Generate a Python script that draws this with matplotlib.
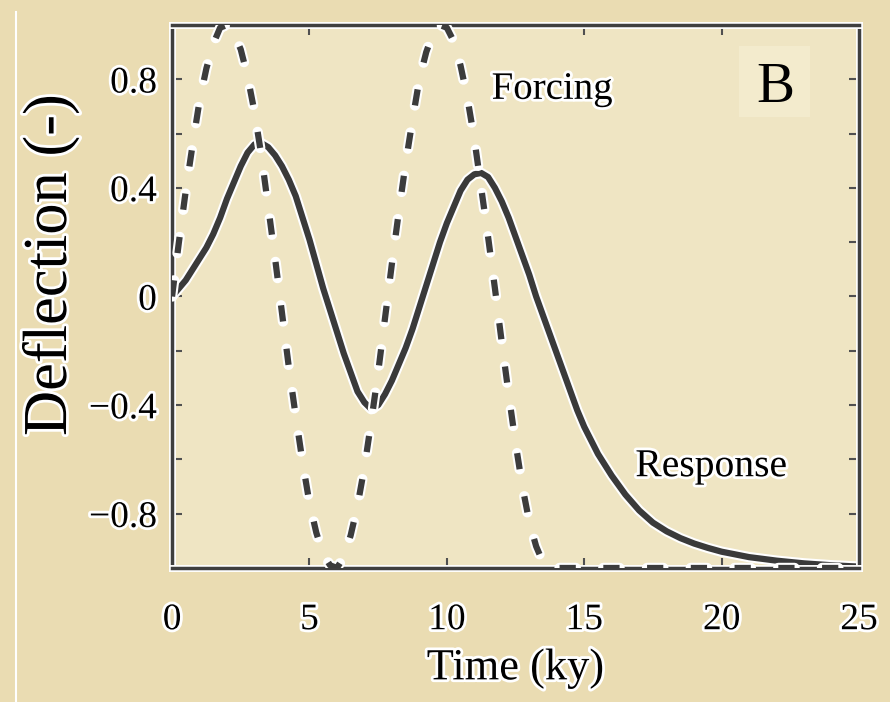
import matplotlib
matplotlib.use('Agg')
import matplotlib.pyplot as plt
import matplotlib.patheffects as pe
from matplotlib.patches import Rectangle
from matplotlib.lines import Line2D

plt.rcParams['font.family'] = 'serif'
plt.rcParams['font.serif'] = ['Liberation Serif', 'DejaVu Serif']

# forcing (dashed)
forcing_time = [0.0, 0.25, 0.5, 0.75, 1.0, 1.25, 1.5, 1.75, 2.0, 2.25, 2.5, 2.75,
                3.0, 3.25, 3.5, 3.75, 4.0, 4.25, 4.5, 4.75, 5.0, 5.25, 5.5, 5.75,
                6.0, 6.25, 6.5, 6.75, 7.0, 7.25, 7.5, 7.75, 8.0, 8.25, 8.5, 8.75,
                9.0, 9.25, 9.5, 9.75, 10.0, 10.25, 10.5, 10.75, 11.0, 11.25, 11.5, 11.75,
                12.0, 12.25, 12.5, 12.75, 13.0, 13.25, 13.5, 13.75, 14.0,
                15, 16, 17, 18, 19, 20, 21, 22, 23, 24, 25]
forcing = [0.00, 0.20, 0.39, 0.56, 0.72, 0.84, 0.93, 0.99, 1.00, 0.97, 0.91, 0.81,
           0.68, 0.52, 0.33, 0.14, -0.06, -0.26, -0.44, -0.61, -0.76, -0.87, -0.95, -0.99,
           -1.00, -0.96, -0.88, -0.77, -0.63, -0.46, -0.28, -0.08, 0.12, 0.31, 0.49, 0.65,
           0.80, 0.90, 0.97, 1.00, 0.99, 0.94, 0.85, 0.73, 0.58, 0.40, 0.22, 0.03,
           -0.17, -0.36, -0.54, -0.70, -0.83, -0.92, -0.98, -1.00, -1.00,
           -1, -1, -1, -1, -1, -1, -1, -1, -1, -1, -1]

# response (solid)
response_time = [0.0, 0.25, 0.5, 0.75, 1.0, 1.25, 1.5, 1.75, 2.0, 2.25, 2.5, 2.75,
                 3.0, 3.25, 3.5, 3.75, 4.0, 4.25, 4.5, 4.75, 5.0, 5.25, 5.5, 5.75,
                 6.0, 6.25, 6.5, 6.75, 7.0, 7.25, 7.5, 7.75, 8.0, 8.25, 8.5, 8.75,
                 9.0, 9.25, 9.5, 9.75, 10.0, 10.25, 10.5, 10.75, 11.0, 11.25, 11.5, 11.75,
                 12.0, 12.25, 12.5, 12.75, 13.0, 13.25, 13.5, 13.75, 14.0, 14.25, 14.5, 14.75,
                 15.0, 15.25, 15.5, 15.75, 16.0, 16.5, 17.0, 17.5, 18.0, 18.5, 19.0, 19.5,
                 20, 21, 22, 23, 24, 25]
response = [0.00, 0.03, 0.06, 0.10, 0.14, 0.18, 0.23, 0.29, 0.36, 0.42, 0.48, 0.53,
            0.56, 0.565, 0.55, 0.52, 0.48, 0.43, 0.37, 0.29, 0.21, 0.12, 0.03, -0.05,
            -0.13, -0.21, -0.28, -0.35, -0.39, -0.415, -0.40, -0.36, -0.31, -0.25, -0.19, -0.12,
            -0.04, 0.04, 0.12, 0.20, 0.27, 0.33, 0.39, 0.43, 0.45, 0.455, 0.44, 0.40,
            0.35, 0.29, 0.22, 0.15, 0.08, 0.00, -0.07, -0.14, -0.21, -0.28, -0.35, -0.42,
            -0.48, -0.53, -0.58, -0.62, -0.66, -0.73, -0.788, -0.833, -0.865, -0.89, -0.91, -0.926,
            -0.94, -0.96, -0.973, -0.983, -0.99, -0.995]

x_ticks = [0, 5, 10, 15, 20, 25]
x_labels = ['0', '5', '10', '15', '20', '25']
y_ticks = [-0.8, -0.4, 0, 0.4, 0.8]
y_labels = ['\u22120.8', '\u22120.4', '0', '0.4', '0.8']
y_minor = [-0.6, -0.2, 0.2, 0.6]

txt_halo = [pe.withStroke(linewidth=4, foreground='white')]

fig = plt.figure(figsize=(8.9, 7.02), dpi=100, facecolor='#eadcb2')
ax = fig.add_axes([0.1933, 0.1909, 0.7719, 0.7735])
ax.set_facecolor('#efe5c3')

ax.plot(response_time, response, color='#3a3a3a', lw=4.5, solid_capstyle='butt',
        solid_joinstyle='round',
        path_effects=[pe.Stroke(linewidth=7.5, foreground='white'), pe.Normal()], zorder=2)
ax.plot(forcing_time, forcing, color='#3c3c3c', lw=4.5, dashes=(2.6, 4.4), dash_capstyle='butt',
        path_effects=[pe.Stroke(linewidth=7.5, foreground='white', capstyle='round'), pe.Normal()],
        zorder=3)

ax.set_xlim(0, 25)
ax.set_ylim(-1, 1)
ax.set_xticks(x_ticks)
ax.set_xticklabels(x_labels)
ax.set_yticks(y_ticks)
ax.set_yticklabels(y_labels)
ax.set_yticks(y_minor, minor=True)
ax.tick_params(which='both', direction='in', top=True, right=True, length=7, width=1.5,
               color='#505050')
ax.tick_params(axis='x', labelsize=27, pad=25)
ax.tick_params(axis='y', labelsize=27, pad=11)
for lab in ax.get_xticklabels() + ax.get_yticklabels():
    lab.set_path_effects(txt_halo)

for sp in ax.spines.values():
    sp.set_color('#3f3f3f')
    sp.set_linewidth(2.5)
    sp.set_path_effects([pe.Stroke(linewidth=5, foreground='white'), pe.Normal()])

ax.set_xlabel('Time (ky)', fontsize=32, path_effects=txt_halo)
ax.xaxis.set_label_coords(0.5, -0.148)
ax.set_ylabel('Deflection (-)', fontsize=45, path_effects=txt_halo)
ax.yaxis.set_label_coords(-0.134, 0.558)

ax.text(11.63, 0.728, 'Forcing', fontsize=28, ha='left', va='baseline', path_effects=txt_halo, zorder=5)
ax.text(16.86, -0.662, 'Response', fontsize=28.5, ha='left', va='baseline', path_effects=txt_halo, zorder=5)

# panel letter box
ax.add_patch(Rectangle((0.8256, 0.8306), 0.1032, 0.1308, transform=ax.transAxes,
                       facecolor='#f3ebcd', edgecolor='none', zorder=4))
ax.text(0.8785, 0.858, 'B', transform=ax.transAxes, ha='center', va='baseline', fontsize=41, zorder=5)

# thin white line at the left edge of the slide
fig.add_artist(Line2D([16 / 890, 16 / 890], [0, 1 - 12 / 702], transform=fig.transFigure,
                      color='white', lw=1.5))

plt.savefig('out.png', dpi=100, facecolor=fig.get_facecolor())
